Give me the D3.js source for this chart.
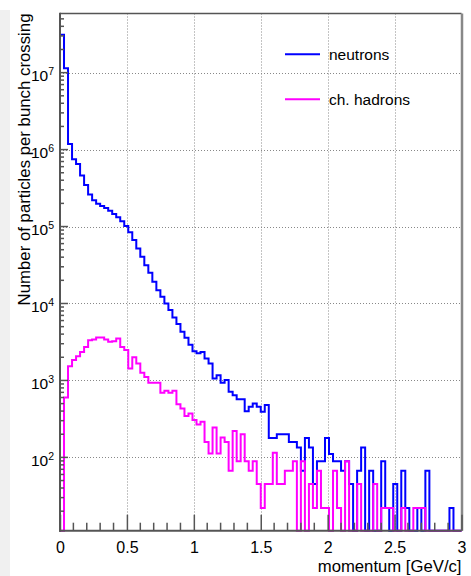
<!DOCTYPE html>
<html>
<head>
<meta charset="utf-8">
<script src="https://cdn.jsdelivr.net/npm/d3@7"></script>
<style>
  body { margin: 0; background: #fff; }
  text { font-family: "Liberation Sans", Arial, sans-serif; fill: #000; }
</style>
</head>
<body>
<div id="chart"></div>
<script>
// momentum spectra per bunch crossing, 100 bins of 0.03 GeV/c from 0 to 3

const binWidth = 0.03;

// neutrons, bin contents
const neutrons = [
  3.1e7, 1.14e7, 1.18e6, 7.5e5, 6.5e5, 4.6e5, 3.47e5, 2.6e5, 2.2e5, 1.98e5,
  1.85e5, 1.74e5, 1.61e5, 1.46e5, 1.32e5, 1.17e5, 1.02e5, 8.4e4, 6.7e4, 5.2e4,
  4.05e4, 3.15e4, 2.5e4, 1.92e4, 1.49e4, 1.22e4, 1.0e4, 8.2e3, 6.6e3, 5.4e3,
  4.3e3, 3.6e3, 2.9e3, 2.4e3, 2.25e3, 2.35e3, 1.93e3, 1.66e3, 1060, 1170,
  931, 1010, 711, 644, 571, 571, 399, 454, 502, 454,
  391, 478, 179, 179, 200, 200, 200, 159, 159, 134,
  67, 179, 134, 45, 89, 89, 179, 111, 89, 89,
  67, 89, 45, 0, 67, 134, 0, 67, 0, 0,
  89, 22, 0, 45, 0, 67, 22, 0, 0, 22,
  0, 67, 0, 0, 0, 0, 0, 22, 0, 0
];

// charged hadrons
const hadrons = [
  0, 601, 1530, 1840, 2070, 2350, 2730, 3340, 3400, 3620,
  3620, 3400, 3180, 3240, 3500, 2730, 2480, 1430, 2000, 1660,
  1260, 1110, 931, 931, 931, 690, 733, 690, 733, 492,
  432, 344, 372, 305, 268, 290, 159, 112, 245, 112,
  182, 159, 67, 221, 89, 200, 89, 67, 89, 45,
  22, 45, 45, 115, 45, 45, 67, 67, 89, 0,
  89, 0, 45, 22, 67, 22, 22, 0, 67, 22,
  0, 89, 0, 0, 45, 0, 0, 0, 45, 0,
  22, 22, 22, 0, 0, 22, 0, 0, 22, 22,
  22, 0, 0, 0, 0, 0, 0, 0, 0, 0
];

const xTicks = [0, 0.5, 1, 1.5, 2, 2.5, 3];
const xTickLabels = ["0", "0.5", "1", "1.5", "2", "2.5", "3"];
const yExponents = [2, 3, 4, 5, 6, 7];
const seriesNames = ["neutrons", "ch. hadrons"];
const seriesColors = ["#0000ff", "#ff00ff"];

const W = 471, H = 576;
const frame = {left: 60, right: 461.5, top: 13.5, bottom: 530.7};
const yMin = 11.15, yMax = 5.87e7;

const svg = d3.select("#chart").append("svg")
  .attr("width", W)
  .attr("height", H);

// faint shadow at the left edge of the canvas
svg.append("rect")
  .attr("x", 0).attr("y", 10).attr("width", 10).attr("height", H - 10)
  .attr("fill", "#f0f0f0");

const x = d3.scaleLinear().domain([0, 3]).range([frame.left, frame.right]);
const y = d3.scaleLog().domain([yMin, yMax]).range([frame.bottom, frame.top]);

// grid
const grid = svg.append("g")
  .attr("stroke", "#888")
  .attr("stroke-width", 1)
  .attr("stroke-dasharray", "1,2");

grid.selectAll("line.vx")
  .data(xTicks.slice(1, -1))
  .enter().append("line")
  .attr("x1", d => Math.round(x(d)) + 0.5)
  .attr("x2", d => Math.round(x(d)) + 0.5)
  .attr("y1", frame.top)
  .attr("y2", frame.bottom);

grid.selectAll("line.hy")
  .data(yExponents)
  .enter().append("line")
  .attr("x1", frame.left)
  .attr("x2", frame.right)
  .attr("y1", d => Math.round(y(Math.pow(10, d))) + 0.5)
  .attr("y2", d => Math.round(y(Math.pow(10, d))) + 0.5);

// histograms as step outlines
function stepPoints(vals) {
  let pts = [[0, yMin]];
  vals.forEach(function(v, i) {
    let c = Math.max(v, yMin);
    pts.push([i * binWidth, c]);
    pts.push([(i + 1) * binWidth, c]);
  });
  pts.push([vals.length * binWidth, yMin]);
  return pts;
}

const line = d3.line()
  .x(d => x(d[0]))
  .y(d => y(d[1]));

[neutrons, hadrons].forEach(function(vals, k) {
  svg.append("path")
    .attr("d", line(stepPoints(vals)))
    .attr("fill", "none")
    .attr("stroke", seriesColors[k])
    .attr("stroke-width", 2)
    .attr("stroke-linejoin", "miter");
});

// frame
svg.append("line")
  .attr("x1", frame.left).attr("x2", frame.right)
  .attr("y1", frame.top).attr("y2", frame.top)
  .attr("stroke", "#555").attr("stroke-width", 1.5);
svg.append("line")
  .attr("x1", frame.right + 0.5).attr("x2", frame.right + 0.5)
  .attr("y1", frame.top).attr("y2", frame.bottom)
  .attr("stroke", "#888").attr("stroke-width", 2.5);
svg.append("line")
  .attr("x1", frame.left).attr("x2", frame.left)
  .attr("y1", frame.top - 0.7).attr("y2", frame.bottom + 1)
  .attr("stroke", "#555").attr("stroke-width", 2);
svg.append("line")
  .attr("x1", frame.left - 1).attr("x2", frame.right)
  .attr("y1", frame.bottom).attr("y2", frame.bottom)
  .attr("stroke", "#555").attr("stroke-width", 2);

// x ticks (inward), majors every 0.5 and minors every 0.1
const xAxis = d3.axisBottom(x)
  .tickValues(xTicks)
  .tickSize(-16)
  .tickFormat((d, i) => xTickLabels[i]);
const gx = svg.append("g")
  .attr("transform", "translate(0," + frame.bottom + ")")
  .call(xAxis);
gx.select(".domain").remove();
gx.selectAll(".tick line").attr("stroke", "#555").attr("stroke-width", 1.5);
gx.selectAll(".tick text")
  .attr("y", 22)
  .attr("dy", 0)
  .style("font-size", "16px")
  .style("font-family", "Liberation Sans, Arial, sans-serif");

const xMinor = d3.range(0, 31).map(i => i / 10).filter(v => Math.abs(v * 2 - Math.round(v * 2)) > 1e-6);
svg.append("g").selectAll("line")
  .data(xMinor)
  .enter().append("line")
  .attr("x1", d => x(d)).attr("x2", d => x(d))
  .attr("y1", frame.bottom).attr("y2", frame.bottom - 8)
  .attr("stroke", "#555").attr("stroke-width", 1.5);

// y ticks (inward)
const yMinor = [];
for (let e = 1; e <= 7; e++) {
  for (let m = 2; m <= 9; m++) {
    let v = m * Math.pow(10, e);
    if (v > yMin && v < yMax) yMinor.push(v);
  }
}
svg.append("g").selectAll("line")
  .data(yMinor)
  .enter().append("line")
  .attr("x1", frame.left).attr("x2", frame.left + 4)
  .attr("y1", d => y(d)).attr("y2", d => y(d))
  .attr("stroke", "#555").attr("stroke-width", 1.5);

svg.append("g").selectAll("line")
  .data(yExponents)
  .enter().append("line")
  .attr("x1", frame.left).attr("x2", frame.left + 8)
  .attr("y1", d => y(Math.pow(10, d))).attr("y2", d => y(Math.pow(10, d)))
  .attr("stroke", "#555").attr("stroke-width", 1.5);

const yLab = svg.append("g").selectAll("text")
  .data(yExponents)
  .enter().append("text")
  .attr("x", 54)
  .attr("y", d => y(Math.pow(10, d)) + 8.5)
  .attr("text-anchor", "end")
  .style("font-size", "15.5px");
yLab.append("tspan").text("10");
yLab.append("tspan")
  .attr("dy", -6)
  .style("font-size", "10.5px")
  .text(d => d);

// axis titles
svg.append("text")
  .attr("x", frame.right)
  .attr("y", 572)
  .attr("text-anchor", "end")
  .style("font-size", "16.7px")
  .text("momentum [GeV/c]");

svg.append("text")
  .attr("transform", "translate(30," + frame.top + ") rotate(-90)")
  .attr("text-anchor", "end")
  .style("font-size", "16.8px")
  .text("Number of particles per bunch crossing");

// legend
const legend = svg.append("g").selectAll("g")
  .data(seriesNames)
  .enter().append("g")
  .attr("transform", (d, i) => "translate(285," + (54.3 + i * 45) + ")");
legend.append("line")
  .attr("x1", 0).attr("x2", 35)
  .attr("stroke", (d, i) => seriesColors[i])
  .attr("stroke-width", 2);
legend.append("text")
  .attr("x", 44)
  .attr("y", 5.5)
  .style("font-size", "15.5px")
  .text(d => d);
</script>
</body>
</html>
